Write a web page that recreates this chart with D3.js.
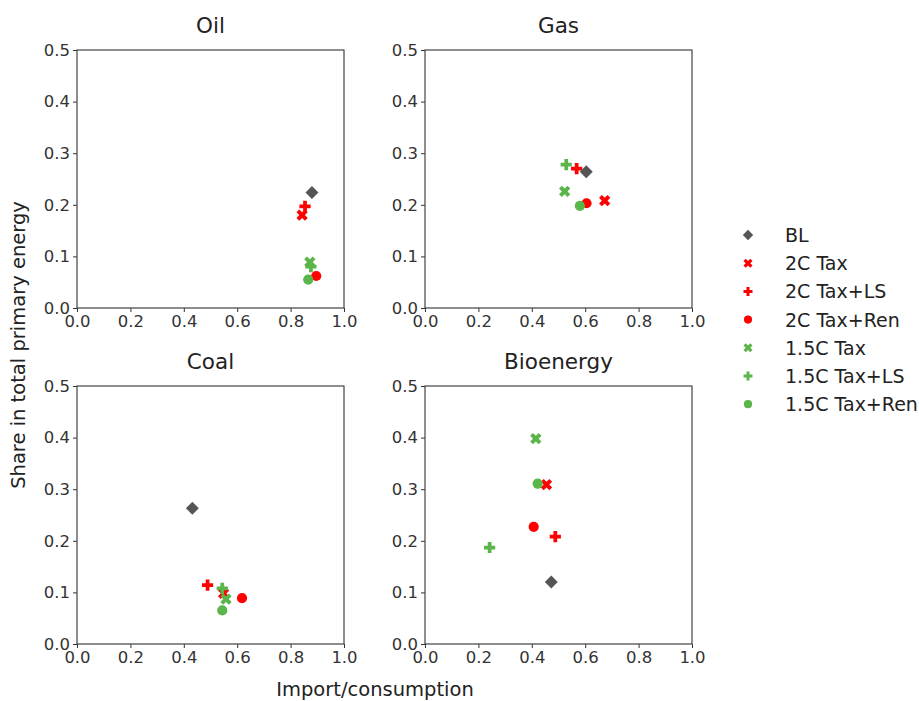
<!DOCTYPE html>
<html>
<head>
<meta charset="utf-8">
<script src="https://cdn.jsdelivr.net/npm/d3@7"></script>
<style>
  body { margin: 0; background: #fff; }
  svg { font-family: "DejaVu Sans", sans-serif; }
</style>
</head>
<body>
<div class="container"></div>
<script>
(function() {
  // Scenario names, in legend order
  var scenarios = ['BL', '2C Tax', '2C Tax+LS', '2C Tax+Ren', '1.5C Tax', '1.5C Tax+LS', '1.5C Tax+Ren'];
  var panelNames = ['Oil', 'Gas', 'Coal', 'Bioenergy'];

  // Import/consumption and share values per panel (same order as scenarios)
  var oilImport = [0.88, 0.843, 0.854, 0.896, 0.872, 0.876, 0.866];
  var oilShare  = [0.224, 0.18, 0.197, 0.062, 0.089, 0.08, 0.055];
  var gasImport = [0.604, 0.673, 0.568, 0.605, 0.523, 0.529, 0.58];
  var gasShare  = [0.264, 0.208, 0.27, 0.203, 0.226, 0.278, 0.198];
  var coalImport = [0.432, 0.549, 0.489, 0.618, 0.558, 0.544, 0.544];
  var coalShare  = [0.263, 0.098, 0.114, 0.089, 0.087, 0.108, 0.065];
  var bioImport = [0.473, 0.455, 0.488, 0.407, 0.415, 0.242, 0.422];
  var bioShare  = [0.12, 0.309, 0.208, 0.227, 0.398, 0.187, 0.311];

  var xTicks = [0, 0.2, 0.4, 0.6, 0.8, 1.0];
  var yTicks = [0, 0.1, 0.2, 0.3, 0.4, 0.5];

  var panelData = [
    [oilImport, oilShare],
    [gasImport, gasShare],
    [coalImport, coalShare],
    [bioImport, bioShare]
  ];

  // Marker styles
  var red = '#ff0000', green = '#5ab54a', grey = '#555555';
  var styles = [
    { color: grey, shape: 'diamond' },
    { color: red, shape: 'x' },
    { color: red, shape: 'plus' },
    { color: red, shape: 'circle' },
    { color: green, shape: 'x' },
    { color: green, shape: 'plus' },
    { color: green, shape: 'circle' }
  ];

  var width = 919, height = 701;
  var panelW = 267, panelH = 258;
  var origins = [[77, 50], [425, 50], [77, 386], [425, 386]];

  var svg = d3.select('div.container').append('svg')
    .attr('width', width).attr('height', height);

  var markerPath = function(shape) {
    if (shape === 'circle') return d3.symbol(d3.symbolCircle, 82)();
    if (shape === 'diamond') return d3.symbol(d3.symbolSquare, 84)();
    if (shape === 'x') return d3.symbol(d3.symbolCross, 80)();
    return d3.symbol(d3.symbolCross, 70)();
  };
  var markerRotate = function(shape) {
    return (shape === 'x' || shape === 'diamond') ? 45 : 0;
  };

  panelNames.forEach(function(name, p) {
    var ox = origins[p][0], oy = origins[p][1];
    var g = svg.append('g').attr('transform', 'translate(' + ox + ',' + oy + ')');

    var x = d3.scaleLinear().domain([0, 1]).range([0, panelW]);
    var y = d3.scaleLinear().domain([0, 0.5]).range([panelH, 0]);

    var xAxis = g.append('g').attr('transform', 'translate(0,' + panelH + ')')
      .call(d3.axisBottom(x).tickValues(xTicks).tickFormat(d3.format('.1f')).tickSize(4).tickPadding(3));
    var yAxis = g.append('g')
      .call(d3.axisLeft(y).tickValues(yTicks).tickFormat(d3.format('.1f')).tickSize(4).tickPadding(3));
    [xAxis, yAxis].forEach(function(a) {
      a.select('.domain').remove();
      a.selectAll('line').attr('stroke', '#333');
      a.selectAll('text').attr('font-size', 16.5).attr('fill', '#333')
        .attr('font-family', '"DejaVu Sans", sans-serif');
    });

    g.append('rect')
      .attr('width', panelW).attr('height', panelH)
      .attr('fill', 'none').attr('stroke', '#444').attr('stroke-width', 1.2);

    g.append('text')
      .attr('x', panelW / 2).attr('y', -17)
      .attr('text-anchor', 'middle')
      .attr('font-size', 21.5).attr('fill', '#222')
      .text(name);

    var xs = panelData[p][0], ys = panelData[p][1];
    // draw scenarios in order, baseline last
    var order = [1, 2, 3, 4, 5, 6, 0];
    order.forEach(function(i) {
      var s = styles[i];
      g.append('path')
        .attr('d', markerPath(s.shape))
        .attr('transform', 'translate(' + x(xs[i]) + ',' + y(ys[i]) + ') rotate(' + markerRotate(s.shape) + ')')
        .attr('fill', s.color);
    });
  });

  // Axis labels
  svg.append('text')
    .attr('transform', 'translate(25,345) rotate(-90)')
    .attr('text-anchor', 'middle')
    .attr('font-size', 19.5).attr('fill', '#222')
    .text('Share in total primary energy');

  svg.append('text')
    .attr('x', 375).attr('y', 696)
    .attr('text-anchor', 'middle')
    .attr('font-size', 19.5).attr('fill', '#222')
    .text('Import/consumption');

  // Legend
  var legend = svg.append('g').attr('transform', 'translate(748,235)');
  scenarios.forEach(function(name, i) {
    var s = styles[i];
    var row = legend.append('g').attr('transform', 'translate(0,' + (i * 28.2) + ')');
    row.append('path')
      .attr('d', markerPath(s.shape))
      .attr('transform', 'scale(0.8) rotate(' + markerRotate(s.shape) + ')')
      .attr('fill', s.color);
    row.append('text')
      .attr('x', 37).attr('y', 7)
      .attr('font-size', 19).attr('fill', '#222')
      .text(name);
  });
})();
</script>
</body>
</html>
